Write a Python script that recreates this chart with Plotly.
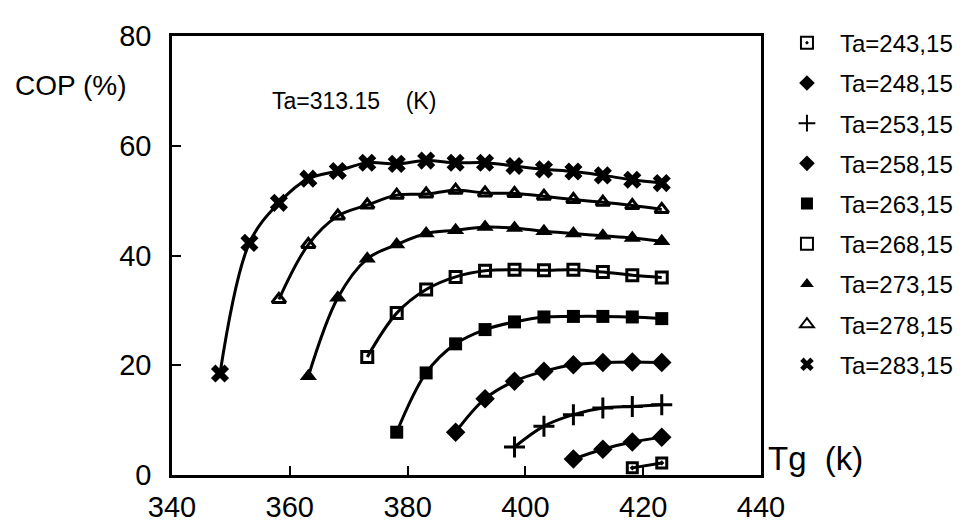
import plotly.graph_objects as go

# Tg (K) for every series: 348.15 ... 423.15 in steps of 5
tg_all = [348.15, 353.15, 358.15, 363.15, 368.15, 373.15, 378.15, 383.15,
          388.15, 393.15, 398.15, 403.15, 408.15, 413.15, 418.15, 423.15]

cop_243 = [1.3, 2.2]
cop_248 = [2.9, 4.7, 6.0, 6.9]
cop_253 = [5.1, 8.9, 11.0, 12.2, 12.5, 12.8]
cop_258 = [7.8, 13.9, 17.1, 18.9, 20.1, 20.5, 20.6, 20.5]
cop_263 = [7.8, 18.6, 23.9, 26.5, 27.9, 28.8, 28.9, 28.9, 28.8, 28.5]
cop_268 = [21.5, 29.5, 33.8, 36.1, 37.2, 37.4, 37.3, 37.4, 37.0, 36.4, 36.0]
cop_273 = [18.0, 32.3, 39.4, 42.0, 44.0, 44.6, 45.2, 45.0, 44.4, 44.0, 43.6, 43.2, 42.6]
cop_278 = [32.0, 42.0, 47.2, 49.2, 51.0, 51.2, 51.9, 51.4, 51.3, 50.8, 50.2, 49.7, 49.1, 48.4]
cop_283 = [18.5, 42.3, 49.6, 54.0, 55.4, 56.9, 56.7, 57.3, 56.9, 56.9, 56.3, 55.7, 55.3, 54.6, 53.8, 53.2]

series = [
    ("Ta=243,15", cop_243, "square-open-dot", 10),
    ("Ta=248,15", cop_248, "diamond", 15),
    ("Ta=253,15", cop_253, "cross-thin", 15),
    ("Ta=258,15", cop_258, "diamond", 15),
    ("Ta=263,15", cop_263, "square", 13),
    ("Ta=268,15", cop_268, "square-open", 11),
    ("Ta=273,15", cop_273, "triangle-up", 15),
    ("Ta=278,15", cop_278, "triangle-up-open", 12),
    ("Ta=283,15", cop_283, "x", 16),
]

FONT = "Liberation Sans, Arial, Helvetica, sans-serif"

fig = go.Figure()
for name, cop, sym, size in series:
    tg = tg_all[len(tg_all) - len(cop):]
    fig.add_trace(go.Scatter(
        x=tg, y=cop, mode="lines", line=dict(color="black", width=3, shape="spline"),
        showlegend=False, hoverinfo="skip"))
    fig.add_trace(go.Scatter(
        x=tg, y=cop, mode="markers", name=name, legendgroup=name,
        marker=dict(symbol=sym, size=size, color="black",
                    line=dict(color="black", width=3 if "open" in sym or "thin" in sym else 0))))

fig.add_annotation(x=356.6, y=68.2, xref="x", yref="y", xanchor="left", showarrow=False,
                   text="Ta=313.15&nbsp;&nbsp;&nbsp;&nbsp;(K)", font=dict(family=FONT, size=23, color="black"))
fig.add_annotation(x=-0.27, y=71, xref="paper", yref="y", xanchor="left", showarrow=False,
                   text="COP (%)", font=dict(family=FONT, size=28, color="black"))
fig.add_annotation(x=1.008, y=3, xref="paper", yref="y", xanchor="left", showarrow=False,
                   text="Tg&nbsp;&nbsp;(k)", font=dict(family=FONT, size=33, color="black"))

axis_common = dict(showline=True, linecolor="black", linewidth=2.5, mirror=True,
                   ticks="inside", ticklen=9, tickwidth=2, tickcolor="black",
                   showgrid=False, zeroline=False,
                   tickfont=dict(family=FONT, size=29, color="black"))
fig.update_xaxes(range=[340, 440], dtick=20, tick0=340, ticklabelstandoff=4, **axis_common)
fig.update_yaxes(range=[0, 80], dtick=20, tick0=0, ticklabelstandoff=12, **axis_common)

fig.update_layout(
    width=967, height=527,
    margin=dict(l=164, r=214, t=22, b=51),
    paper_bgcolor="white", plot_bgcolor="white",
    legend=dict(x=1.022, y=1.035, xanchor="left", yanchor="top", tracegroupgap=6,
                itemwidth=56, itemsizing="constant", maxheight=1.0,
                font=dict(family=FONT, size=24, color="black"),
                bgcolor="rgba(0,0,0,0)"),
)

fig.write_html("out.html")
